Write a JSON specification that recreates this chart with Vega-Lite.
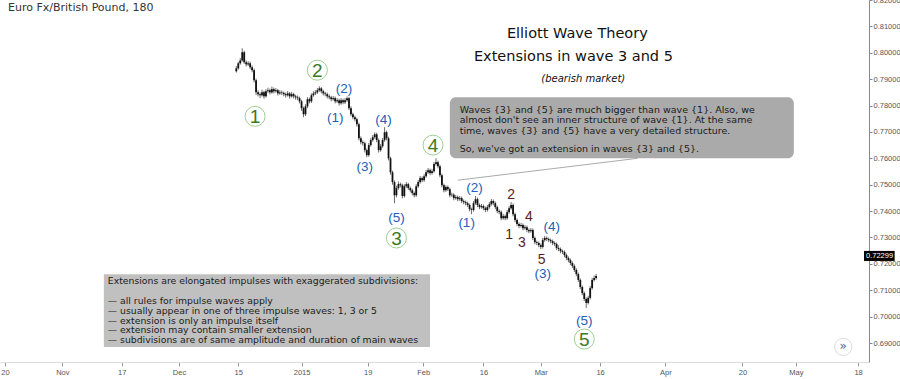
{
"$schema": "https://vega.github.io/schema/vega-lite/v6.json",
"width": 869, "height": 362,
"autosize": {"type": "none"},
"padding": {"left": 0, "top": 0, "right": 31, "bottom": 17},
"background": "white",
"config": {"view": {"stroke": null}, "font": "DejaVu Sans", "axis": {"labelOverlap": false, "labelFlush": false, "labelBound": false, "grid": false, "title": null}},
"datasets": {
"candles": [
{"b":0,"o":0.7930,"h":0.7950,"l":0.7925,"c":0.7941},
{"b":1,"o":0.7941,"h":0.7966,"l":0.7936,"c":0.7960},
{"b":2,"o":0.7960,"h":0.7980,"l":0.7955,"c":0.7971},
{"b":3,"o":0.7971,"h":0.8017,"l":0.7966,"c":0.8002},
{"b":4,"o":0.8002,"h":0.8008,"l":0.7958,"c":0.7964},
{"b":5,"o":0.7964,"h":0.7970,"l":0.7948,"c":0.7956},
{"b":6,"o":0.7956,"h":0.7968,"l":0.7950,"c":0.7960},
{"b":7,"o":0.7960,"h":0.7966,"l":0.7938,"c":0.7945},
{"b":8,"o":0.7945,"h":0.7952,"l":0.7926,"c":0.7934},
{"b":9,"o":0.7934,"h":0.7940,"l":0.7888,"c":0.7896},
{"b":10,"o":0.7896,"h":0.7902,"l":0.7840,"c":0.7850},
{"b":11,"o":0.7850,"h":0.7858,"l":0.7835,"c":0.7843},
{"b":12,"o":0.7843,"h":0.7850,"l":0.7828,"c":0.7839},
{"b":13,"o":0.7839,"h":0.7860,"l":0.7834,"c":0.7850},
{"b":14,"o":0.7850,"h":0.7856,"l":0.7826,"c":0.7835},
{"b":15,"o":0.7835,"h":0.7862,"l":0.7830,"c":0.7854},
{"b":16,"o":0.7854,"h":0.7868,"l":0.7848,"c":0.7858},
{"b":17,"o":0.7858,"h":0.7864,"l":0.7842,"c":0.7850},
{"b":18,"o":0.7850,"h":0.7872,"l":0.7845,"c":0.7862},
{"b":19,"o":0.7862,"h":0.7868,"l":0.7846,"c":0.7854},
{"b":20,"o":0.7854,"h":0.7866,"l":0.7849,"c":0.7858},
{"b":21,"o":0.7858,"h":0.7863,"l":0.7838,"c":0.7846},
{"b":22,"o":0.7846,"h":0.7858,"l":0.7841,"c":0.7850},
{"b":23,"o":0.7850,"h":0.7857,"l":0.7840,"c":0.7848},
{"b":24,"o":0.7848,"h":0.7853,"l":0.7835,"c":0.7843},
{"b":25,"o":0.7843,"h":0.7849,"l":0.7830,"c":0.7839},
{"b":26,"o":0.7839,"h":0.7855,"l":0.7834,"c":0.7846},
{"b":27,"o":0.7846,"h":0.7851,"l":0.7826,"c":0.7835},
{"b":28,"o":0.7835,"h":0.7851,"l":0.7830,"c":0.7843},
{"b":29,"o":0.7843,"h":0.7848,"l":0.7827,"c":0.7835},
{"b":30,"o":0.7835,"h":0.7841,"l":0.7822,"c":0.7831},
{"b":31,"o":0.7831,"h":0.7838,"l":0.7820,"c":0.7828},
{"b":32,"o":0.7828,"h":0.7834,"l":0.7808,"c":0.7816},
{"b":33,"o":0.7816,"h":0.7822,"l":0.7780,"c":0.7790},
{"b":34,"o":0.7790,"h":0.7796,"l":0.7756,"c":0.7767},
{"b":35,"o":0.7767,"h":0.7805,"l":0.7760,"c":0.7797},
{"b":36,"o":0.7797,"h":0.7832,"l":0.7790,"c":0.7824},
{"b":37,"o":0.7824,"h":0.7830,"l":0.7808,"c":0.7816},
{"b":38,"o":0.7816,"h":0.7846,"l":0.7810,"c":0.7839},
{"b":39,"o":0.7839,"h":0.7854,"l":0.7833,"c":0.7846},
{"b":40,"o":0.7846,"h":0.7858,"l":0.7840,"c":0.7850},
{"b":41,"o":0.7850,"h":0.7866,"l":0.7844,"c":0.7858},
{"b":42,"o":0.7858,"h":0.7873,"l":0.7852,"c":0.7865},
{"b":43,"o":0.7865,"h":0.7870,"l":0.7846,"c":0.7854},
{"b":44,"o":0.7854,"h":0.7860,"l":0.7838,"c":0.7846},
{"b":45,"o":0.7846,"h":0.7852,"l":0.7835,"c":0.7843},
{"b":46,"o":0.7843,"h":0.7849,"l":0.7827,"c":0.7835},
{"b":47,"o":0.7835,"h":0.7842,"l":0.7824,"c":0.7831},
{"b":48,"o":0.7831,"h":0.7837,"l":0.7816,"c":0.7824},
{"b":49,"o":0.7824,"h":0.7836,"l":0.7819,"c":0.7828},
{"b":50,"o":0.7828,"h":0.7834,"l":0.7808,"c":0.7816},
{"b":51,"o":0.7816,"h":0.7828,"l":0.7810,"c":0.7820},
{"b":52,"o":0.7820,"h":0.7826,"l":0.7800,"c":0.7809},
{"b":53,"o":0.7809,"h":0.7828,"l":0.7803,"c":0.7820},
{"b":54,"o":0.7820,"h":0.7826,"l":0.7805,"c":0.7812},
{"b":55,"o":0.7812,"h":0.7828,"l":0.7806,"c":0.7820},
{"b":56,"o":0.7820,"h":0.7834,"l":0.7814,"c":0.7828},
{"b":57,"o":0.7828,"h":0.7833,"l":0.7782,"c":0.7790},
{"b":58,"o":0.7790,"h":0.7797,"l":0.7759,"c":0.7767},
{"b":59,"o":0.7767,"h":0.7773,"l":0.7748,"c":0.7756},
{"b":60,"o":0.7756,"h":0.7762,"l":0.7740,"c":0.7748},
{"b":61,"o":0.7748,"h":0.7754,"l":0.7720,"c":0.7729},
{"b":62,"o":0.7729,"h":0.7735,"l":0.7668,"c":0.7676},
{"b":63,"o":0.7676,"h":0.7683,"l":0.7653,"c":0.7661},
{"b":64,"o":0.7661,"h":0.7668,"l":0.7648,"c":0.7657},
{"b":65,"o":0.7657,"h":0.7663,"l":0.7622,"c":0.7631},
{"b":66,"o":0.7631,"h":0.7637,"l":0.7604,"c":0.7612},
{"b":67,"o":0.7612,"h":0.7658,"l":0.7606,"c":0.7650},
{"b":68,"o":0.7650,"h":0.7676,"l":0.7644,"c":0.7669},
{"b":69,"o":0.7669,"h":0.7688,"l":0.7663,"c":0.7680},
{"b":70,"o":0.7680,"h":0.7698,"l":0.7674,"c":0.7691},
{"b":71,"o":0.7691,"h":0.7697,"l":0.7661,"c":0.7669},
{"b":72,"o":0.7669,"h":0.7675,"l":0.7622,"c":0.7631},
{"b":73,"o":0.7631,"h":0.7654,"l":0.7625,"c":0.7646},
{"b":74,"o":0.7646,"h":0.7677,"l":0.7640,"c":0.7669},
{"b":75,"o":0.7669,"h":0.7718,"l":0.7663,"c":0.7699},
{"b":76,"o":0.7699,"h":0.7705,"l":0.7668,"c":0.7676},
{"b":77,"o":0.7676,"h":0.7682,"l":0.7592,"c":0.7600},
{"b":78,"o":0.7600,"h":0.7606,"l":0.7538,"c":0.7547},
{"b":79,"o":0.7547,"h":0.7553,"l":0.7500,"c":0.7510},
{"b":80,"o":0.7510,"h":0.7516,"l":0.7430,"c":0.7460},
{"b":81,"o":0.7460,"h":0.7496,"l":0.7452,"c":0.7487},
{"b":82,"o":0.7487,"h":0.7512,"l":0.7481,"c":0.7502},
{"b":83,"o":0.7502,"h":0.7508,"l":0.7490,"c":0.7498},
{"b":84,"o":0.7498,"h":0.7504,"l":0.7448,"c":0.7457},
{"b":85,"o":0.7457,"h":0.7502,"l":0.7451,"c":0.7494},
{"b":86,"o":0.7494,"h":0.7510,"l":0.7488,"c":0.7502},
{"b":87,"o":0.7502,"h":0.7507,"l":0.7480,"c":0.7487},
{"b":88,"o":0.7487,"h":0.7493,"l":0.7471,"c":0.7479},
{"b":89,"o":0.7479,"h":0.7485,"l":0.7460,"c":0.7468},
{"b":90,"o":0.7468,"h":0.7474,"l":0.7452,"c":0.7460},
{"b":91,"o":0.7460,"h":0.7502,"l":0.7454,"c":0.7494},
{"b":92,"o":0.7494,"h":0.7518,"l":0.7488,"c":0.7510},
{"b":93,"o":0.7510,"h":0.7533,"l":0.7504,"c":0.7525},
{"b":94,"o":0.7525,"h":0.7531,"l":0.7509,"c":0.7517},
{"b":95,"o":0.7517,"h":0.7540,"l":0.7511,"c":0.7532},
{"b":96,"o":0.7532,"h":0.7556,"l":0.7526,"c":0.7547},
{"b":97,"o":0.7547,"h":0.7563,"l":0.7541,"c":0.7555},
{"b":98,"o":0.7555,"h":0.7561,"l":0.7536,"c":0.7544},
{"b":99,"o":0.7544,"h":0.7559,"l":0.7538,"c":0.7551},
{"b":100,"o":0.7551,"h":0.7586,"l":0.7545,"c":0.7578},
{"b":101,"o":0.7578,"h":0.7600,"l":0.7572,"c":0.7585},
{"b":102,"o":0.7585,"h":0.7591,"l":0.7562,"c":0.7570},
{"b":103,"o":0.7570,"h":0.7576,"l":0.7528,"c":0.7536},
{"b":104,"o":0.7536,"h":0.7542,"l":0.7490,"c":0.7498},
{"b":105,"o":0.7498,"h":0.7504,"l":0.7471,"c":0.7479},
{"b":106,"o":0.7479,"h":0.7498,"l":0.7473,"c":0.7491},
{"b":107,"o":0.7491,"h":0.7497,"l":0.7476,"c":0.7483},
{"b":108,"o":0.7483,"h":0.7489,"l":0.7452,"c":0.7460},
{"b":109,"o":0.7460,"h":0.7470,"l":0.7454,"c":0.7462},
{"b":110,"o":0.7462,"h":0.7468,"l":0.7441,"c":0.7449},
{"b":111,"o":0.7449,"h":0.7461,"l":0.7443,"c":0.7453},
{"b":112,"o":0.7453,"h":0.7459,"l":0.7437,"c":0.7445},
{"b":113,"o":0.7445,"h":0.7457,"l":0.7439,"c":0.7449},
{"b":114,"o":0.7449,"h":0.7455,"l":0.7430,"c":0.7438},
{"b":115,"o":0.7438,"h":0.7444,"l":0.7426,"c":0.7434},
{"b":116,"o":0.7434,"h":0.7440,"l":0.7422,"c":0.7430},
{"b":117,"o":0.7430,"h":0.7436,"l":0.7415,"c":0.7423},
{"b":118,"o":0.7423,"h":0.7429,"l":0.7399,"c":0.7407},
{"b":119,"o":0.7407,"h":0.7413,"l":0.7388,"c":0.7404},
{"b":120,"o":0.7404,"h":0.7438,"l":0.7398,"c":0.7430},
{"b":121,"o":0.7430,"h":0.7457,"l":0.7424,"c":0.7445},
{"b":122,"o":0.7445,"h":0.7451,"l":0.7415,"c":0.7423},
{"b":123,"o":0.7423,"h":0.7429,"l":0.7407,"c":0.7415},
{"b":124,"o":0.7415,"h":0.7427,"l":0.7409,"c":0.7419},
{"b":125,"o":0.7419,"h":0.7425,"l":0.7403,"c":0.7411},
{"b":126,"o":0.7411,"h":0.7417,"l":0.7396,"c":0.7404},
{"b":127,"o":0.7404,"h":0.7423,"l":0.7398,"c":0.7415},
{"b":128,"o":0.7415,"h":0.7434,"l":0.7409,"c":0.7426},
{"b":129,"o":0.7426,"h":0.7446,"l":0.7420,"c":0.7438},
{"b":130,"o":0.7438,"h":0.7444,"l":0.7422,"c":0.7430},
{"b":131,"o":0.7430,"h":0.7436,"l":0.7407,"c":0.7415},
{"b":132,"o":0.7415,"h":0.7421,"l":0.7392,"c":0.7400},
{"b":133,"o":0.7400,"h":0.7406,"l":0.7388,"c":0.7396},
{"b":134,"o":0.7396,"h":0.7402,"l":0.7365,"c":0.7373},
{"b":135,"o":0.7373,"h":0.7389,"l":0.7367,"c":0.7381},
{"b":136,"o":0.7381,"h":0.7387,"l":0.7365,"c":0.7373},
{"b":137,"o":0.7373,"h":0.7404,"l":0.7367,"c":0.7396},
{"b":138,"o":0.7396,"h":0.7419,"l":0.7390,"c":0.7411},
{"b":139,"o":0.7411,"h":0.7434,"l":0.7405,"c":0.7423},
{"b":140,"o":0.7423,"h":0.7429,"l":0.7380,"c":0.7388},
{"b":141,"o":0.7388,"h":0.7394,"l":0.7358,"c":0.7366},
{"b":142,"o":0.7366,"h":0.7372,"l":0.7343,"c":0.7351},
{"b":143,"o":0.7351,"h":0.7357,"l":0.7335,"c":0.7343},
{"b":144,"o":0.7343,"h":0.7355,"l":0.7337,"c":0.7347},
{"b":145,"o":0.7347,"h":0.7353,"l":0.7327,"c":0.7335},
{"b":146,"o":0.7335,"h":0.7347,"l":0.7329,"c":0.7339},
{"b":147,"o":0.7339,"h":0.7345,"l":0.7320,"c":0.7328},
{"b":148,"o":0.7328,"h":0.7334,"l":0.7316,"c":0.7324},
{"b":149,"o":0.7324,"h":0.7336,"l":0.7318,"c":0.7328},
{"b":150,"o":0.7328,"h":0.7334,"l":0.7290,"c":0.7298},
{"b":151,"o":0.7298,"h":0.7304,"l":0.7274,"c":0.7282},
{"b":152,"o":0.7282,"h":0.7288,"l":0.7271,"c":0.7279},
{"b":153,"o":0.7279,"h":0.7285,"l":0.7263,"c":0.7271},
{"b":154,"o":0.7271,"h":0.7277,"l":0.7256,"c":0.7264},
{"b":155,"o":0.7264,"h":0.7298,"l":0.7258,"c":0.7290},
{"b":156,"o":0.7290,"h":0.7306,"l":0.7284,"c":0.7298},
{"b":157,"o":0.7298,"h":0.7304,"l":0.7286,"c":0.7294},
{"b":158,"o":0.7294,"h":0.7300,"l":0.7282,"c":0.7290},
{"b":159,"o":0.7290,"h":0.7296,"l":0.7278,"c":0.7286},
{"b":160,"o":0.7286,"h":0.7292,"l":0.7271,"c":0.7279},
{"b":161,"o":0.7279,"h":0.7285,"l":0.7267,"c":0.7275},
{"b":162,"o":0.7275,"h":0.7281,"l":0.7252,"c":0.7260},
{"b":163,"o":0.7260,"h":0.7270,"l":0.7248,"c":0.7256},
{"b":164,"o":0.7256,"h":0.7262,"l":0.7240,"c":0.7248},
{"b":165,"o":0.7248,"h":0.7254,"l":0.7237,"c":0.7245},
{"b":166,"o":0.7245,"h":0.7251,"l":0.7225,"c":0.7233},
{"b":167,"o":0.7233,"h":0.7239,"l":0.7214,"c":0.7222},
{"b":168,"o":0.7222,"h":0.7228,"l":0.7206,"c":0.7214},
{"b":169,"o":0.7214,"h":0.7220,"l":0.7195,"c":0.7203},
{"b":170,"o":0.7203,"h":0.7209,"l":0.7184,"c":0.7192},
{"b":171,"o":0.7192,"h":0.7198,"l":0.7169,"c":0.7177},
{"b":172,"o":0.7177,"h":0.7183,"l":0.7153,"c":0.7161},
{"b":173,"o":0.7161,"h":0.7167,"l":0.7131,"c":0.7139},
{"b":174,"o":0.7139,"h":0.7145,"l":0.7104,"c":0.7112},
{"b":175,"o":0.7112,"h":0.7118,"l":0.7081,"c":0.7089},
{"b":176,"o":0.7089,"h":0.7095,"l":0.7059,"c":0.7067},
{"b":177,"o":0.7067,"h":0.7073,"l":0.7033,"c":0.7052},
{"b":178,"o":0.7052,"h":0.7079,"l":0.7046,"c":0.7071},
{"b":179,"o":0.7071,"h":0.7116,"l":0.7065,"c":0.7108},
{"b":180,"o":0.7108,"h":0.7147,"l":0.7102,"c":0.7139},
{"b":181,"o":0.7139,"h":0.7156,"l":0.7133,"c":0.7146},
{"b":182,"o":0.7146,"h":0.7162,"l":0.7140,"c":0.7154}
],
"circles": [{"b":9.5,"p":0.7759,"t":"1"},{"b":41,"p":0.7934,"t":"2"},{"b":81,"p":0.7298,"t":"3"},{"b":99.5,"p":0.7650,"t":"4"},{"b":176,"p":0.6915,"t":"5"}],
"blue": [{"b":50,"p":0.7752,"t":"(1)"},{"b":54.5,"p":0.7862,"t":"(2)"},{"b":65,"p":0.7566,"t":"(3)"},{"b":74.5,"p":0.7744,"t":"(4)"},{"b":81,"p":0.7373,"t":"(5)"},{"b":116.5,"p":0.7354,"t":"(1)"},{"b":120.5,"p":0.7487,"t":"(2)"},{"b":155,"p":0.7161,"t":"(3)"},{"b":159.5,"p":0.7339,"t":"(4)"},{"b":176,"p":0.6983,"t":"(5)"}],
"brown": [{"b":138,"p":0.7309,"t":"1"},{"b":139,"p":0.7460,"t":"2"},{"b":144.5,"p":0.7279,"t":"3"},{"b":148,"p":0.7377,"t":"4"},{"b":154.5,"p":0.7215,"t":"5"}],
"note1": [{"b":113,"p":0.7784,"t":"Waves {3} and {5} are much bigger than wave {1}. Also, we"},{"b":113,"p":0.7744,"t":"almost don't see an inner structure of wave {1}. At the same"},{"b":113,"p":0.7705,"t":"time, waves {3} and {5} have a very detailed structure."},{"b":113,"p":0.7634,"t":"So, we've got an extension in waves {3} and {5}."}],
"note2": [{"b":-65,"p":0.7135,"t":"Extensions are elongated impulses with exaggerated subdivisions:"},{"b":-65,"p":0.7059,"t":"— all rules for impulse waves apply"},{"b":-65,"p":0.7021,"t":"— usually appear in one of three impulse waves: 1, 3 or 5"},{"b":-65,"p":0.6983,"t":"— extension is only an impulse itself"},{"b":-65,"p":0.6948,"t":"— extension may contain smaller extension"},{"b":-65,"p":0.6910,"t":"— subdivisions are of same amplitude and duration of main waves"}],
"titles": [{"b":172.5,"p":0.8070,"t":"Elliott Wave Theory"},{"b":170.5,"p":0.7983,"t":"Extensions in wave 3 and 5"}],
"subtitle": [{"b":175.5,"p":0.7899,"t":"(bearish market)"}],
"symbol": [{"b":-115.5,"p":0.8168,"t":"Euro Fx/British Pound, 180"}],
"box1": [{"b1":108,"b2":282,"p1":0.7831,"p2":0.7600}],
"box2": [{"b1":-67,"b2":98,"p1":0.7161,"p2":0.6885}],
"callout": [{"b1":112,"b2":203,"p1":0.7517,"p2":0.7600}],
"lastprice": [{"b1":317.5,"b2":333,"p1":0.7211,"p2":0.7249,"bt":318.5,"p":0.72299,"t":"0.72299"}],
"button": [{"b":307,"p":0.6885,"t":"»"}]
},
"layer": [
{"data":{"name":"box2"},"mark":{"type":"rect","color":"#c0c0c0"},
 "encoding":{"x":{"field":"b1","type":"quantitative","scale":{"domain":[-117,317.5],"nice":false,"zero":false},
   "axis":{"orient":"bottom","values":[-117,-88,-58,-29,1,33,66.5,94.5,125,154,184,217,256,283,314.5],"tickCount":40,
     "labelExpr":"['20','Nov','17','Dec','15','2015','19','Feb','16','Mar','16','Apr','20','May','18'][indexof([-117,-88,-58,-29,1,33,66.5,94.5,125,154,184,217,256,283,314.5], datum.value)]",
     "labelFlush":false,"labelAlign":"center","tickSize":4,"tickColor":"#999","domainColor":"#ddd","labelColor":"#555","labelFontSize":7.5,"labelFont":"Liberation Sans Narrow, Liberation Sans","labelPadding":2}},
  "x2":{"field":"b2"},
  "y":{"field":"p1","type":"quantitative","scale":{"domain":[0.6828,0.82],"nice":false,"zero":false},
   "axis":{"orient":"right","values":[0.69,0.70,0.71,0.72,0.73,0.74,0.75,0.76,0.77,0.78,0.79,0.80,0.81,0.82],"tickCount":40,"format":".5f",
     "labelFlush":false,"labelSeparation":0,"tickSize":3,"tickColor":"#888","domainColor":"#888","labelColor":"#555","labelFontSize":7.5,"labelFont":"Liberation Sans Narrow, Liberation Sans","labelPadding":1}},
  "y2":{"field":"p2"}}},
{"data":{"name":"box1"},"mark":{"type":"rect","color":"#aaaaaa","cornerRadius":6},
 "encoding":{"x":{"field":"b1","type":"quantitative"},"x2":{"field":"b2"},"y":{"field":"p1","type":"quantitative"},"y2":{"field":"p2"}}},
{"data":{"name":"callout"},"mark":{"type":"rule","color":"#aaaaaa","strokeWidth":1},
 "encoding":{"x":{"field":"b1","type":"quantitative"},"x2":{"field":"b2"},"y":{"field":"p1","type":"quantitative"},"y2":{"field":"p2"}}},
{"data":{"name":"candles"},"mark":{"type":"rule","color":"#6a6a6a","strokeWidth":1},
 "encoding":{"x":{"field":"b","type":"quantitative"},"y":{"field":"l","type":"quantitative"},"y2":{"field":"h"}}},
{"data":{"name":"candles"},"mark":{"type":"bar","width":1.8,"color":"#111111"},
 "encoding":{"x":{"field":"b","type":"quantitative"},"y":{"field":"o","type":"quantitative"},"y2":{"field":"c"}}},
{"data":{"name":"circles"},"mark":{"type":"point","shape":"circle","size":400,"filled":false,"stroke":"#9fcf94","strokeWidth":1,"opacity":1},
 "encoding":{"x":{"field":"b","type":"quantitative"},"y":{"field":"p","type":"quantitative"}}},
{"data":{"name":"circles"},"mark":{"type":"text","font":"Liberation Sans","fontSize":19,"color":"#3c7a1e","baseline":"middle","align":"center","dy":1},
 "encoding":{"x":{"field":"b","type":"quantitative"},"y":{"field":"p","type":"quantitative"},"text":{"field":"t"}}},
{"data":{"name":"blue"},"mark":{"type":"text","font":"Liberation Sans","fontSize":13.5,"color":"#2360b8","baseline":"middle","align":"center"},
 "encoding":{"x":{"field":"b","type":"quantitative"},"y":{"field":"p","type":"quantitative"},"text":{"field":"t"}}},
{"data":{"name":"brown"},"mark":{"type":"text","font":"Liberation Sans","fontSize":14,"color":"#5a1e1e","baseline":"middle","align":"center"},
 "encoding":{"x":{"field":"b","type":"quantitative"},"y":{"field":"p","type":"quantitative"},"text":{"field":"t"}}},
{"data":{"name":"note1"},"mark":{"type":"text","font":"DejaVu Sans","fontSize":9.5,"color":"#1a1a1a","baseline":"middle","align":"left"},
 "encoding":{"x":{"field":"b","type":"quantitative"},"y":{"field":"p","type":"quantitative"},"text":{"field":"t"}}},
{"data":{"name":"note2"},"mark":{"type":"text","font":"DejaVu Sans","fontSize":9.3,"color":"#1a1a1a","baseline":"middle","align":"left"},
 "encoding":{"x":{"field":"b","type":"quantitative"},"y":{"field":"p","type":"quantitative"},"text":{"field":"t"}}},
{"data":{"name":"titles"},"mark":{"type":"text","font":"DejaVu Sans","fontSize":14.5,"color":"#111111","baseline":"middle","align":"center"},
 "encoding":{"x":{"field":"b","type":"quantitative"},"y":{"field":"p","type":"quantitative"},"text":{"field":"t"}}},
{"data":{"name":"subtitle"},"mark":{"type":"text","font":"DejaVu Sans","fontSize":10,"fontStyle":"italic","color":"#111111","baseline":"middle","align":"center"},
 "encoding":{"x":{"field":"b","type":"quantitative"},"y":{"field":"p","type":"quantitative"},"text":{"field":"t"}}},
{"data":{"name":"symbol"},"mark":{"type":"text","font":"DejaVu Sans","fontSize":11,"color":"#333333","baseline":"middle","align":"left"},
 "encoding":{"x":{"field":"b","type":"quantitative"},"y":{"field":"p","type":"quantitative"},"text":{"field":"t"}}},
{"data":{"name":"lastprice"},"mark":{"type":"rect","color":"#000000"},
 "encoding":{"x":{"field":"b1","type":"quantitative"},"x2":{"field":"b2"},"y":{"field":"p1","type":"quantitative"},"y2":{"field":"p2"}}},
{"data":{"name":"lastprice"},"mark":{"type":"text","font":"Liberation Sans Narrow, Liberation Sans","fontSize":7.5,"color":"#ffffff","baseline":"middle","align":"left"},
 "encoding":{"x":{"field":"bt","type":"quantitative"},"y":{"field":"p","type":"quantitative"},"text":{"field":"t"}}},
{"data":{"name":"button"},"mark":{"type":"point","shape":"circle","size":300,"filled":true,"fill":"#ffffff","stroke":"#dddddd","strokeWidth":1,"opacity":1},
 "encoding":{"x":{"field":"b","type":"quantitative"},"y":{"field":"p","type":"quantitative"}}},
{"data":{"name":"button"},"mark":{"type":"text","font":"DejaVu Sans","fontSize":12,"color":"#4a6b9a","baseline":"middle","align":"center","dy":-1},
 "encoding":{"x":{"field":"b","type":"quantitative"},"y":{"field":"p","type":"quantitative"},"text":{"field":"t"}}}
]
}
